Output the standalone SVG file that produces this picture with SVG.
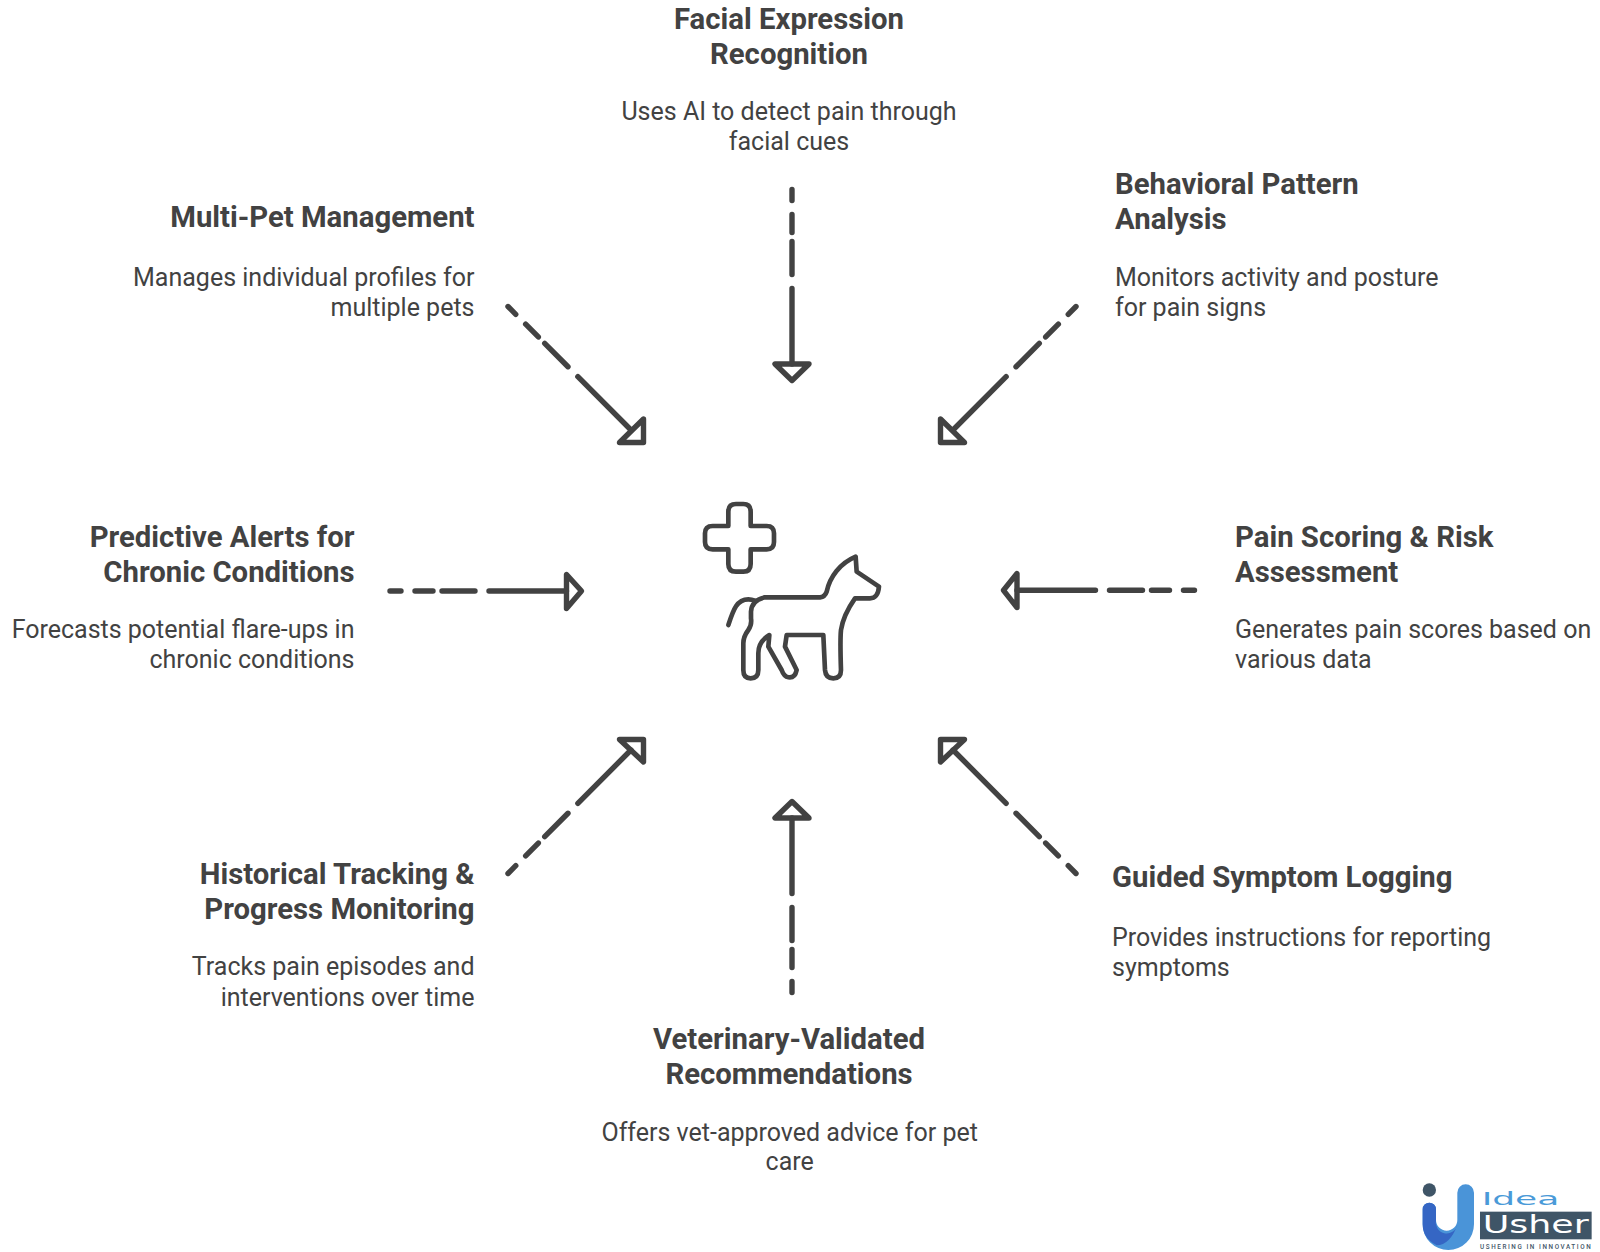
<svg xmlns="http://www.w3.org/2000/svg" width="1600" height="1252" viewBox="0 0 1600 1252">
<style>
text{font-family:Roboto,"Liberation Sans",sans-serif;fill:#424242}
.h{font-size:29.3px;font-weight:700;transform:translateY(.6px)}
.b{font-size:25px;font-weight:400;transform:translateY(.6px)}
.m{text-anchor:middle}.e{text-anchor:end}
.l{fill:none;stroke:#424242;stroke-width:5.4;stroke-linecap:round;stroke-linejoin:round;stroke-dasharray:11 14 18 9 33 14 500}
.a{fill:none;stroke:#424242;stroke-width:5.4;stroke-linecap:round;stroke-linejoin:round}
.i{fill:none;stroke:#424242;stroke-width:14;stroke-linecap:round;stroke-linejoin:round}
</style>
<rect width="1600" height="1252" fill="#fff"/>
<g id="connectors">
<g><path class="l" d="M792 189.5V364"/><path class="a" d="M775 364H809L792 380.5Z"/></g>
<g><path class="l" d="M1076 306.5L953 430"/><path class="a" d="M940.500 419V442.500H964.500Z"/></g>
<g><path class="l" d="M1194.5 590.300H1017"/><path class="a" d="M1017 573.500V607.500L1003.500 590.300Z"/></g>
<g><path class="l" d="M1076 873.500L953 750"/><path class="a" d="M940.500 762V739.500H964.500Z"/></g>
<g><path class="l" d="M792 992.500V818"/><path class="a" d="M775 818H809L792 801.500Z"/></g>
<g><path class="l" d="M508 873.500L631 750"/><path class="a" d="M643.500 762V739.500H619.500Z"/></g>
<g><path class="l" d="M390 591H566.500"/><path class="a" d="M566.500 574.500V608.500L581.500 591Z"/></g>
<g><path class="l" d="M508 306.500L631 430"/><path class="a" d="M643.500 419V442.500H619.500Z"/></g>
</g>
<g id="center-icon" transform="translate(680 480) scale(.3333)">
<path class="i" d="M145 95Q145 72 168 72H190Q212 72 212 95V138H260Q282 138 282 160V186Q282 208 260 208H212V252Q212 275 190 275H168Q145 275 145 252V208H98Q75 208 75 186V160Q75 138 98 138H145Z"/>
<path class="i" d="M255 352H420Q435 350 440 335C450 290 480 250 527 230L530 275L597 320Q594 355 570 355H525Q490 405 483 450Q480 480 483 570Q483 595 460 595Q437 595 435 570L430 465H320L315 500L350 570Q345 595 325 592Q312 590 305 570L265 500L268 465Q235 485 235 520V570Q235 595 212 595Q190 595 190 570V490Q190 470 205 450Q216 435 213 415V395Q215 360 255 352Z"/>
<path class="i" d="M145 435C160 390 170 358 205 358Q215 358 225 362"/>
</g>
<g id="node-facial"><text class="h m" x="789" y="28">Facial Expression</text><text class="h m" x="789" y="63">Recognition</text><text class="b m" x="789" y="119.5">Uses AI to detect pain through</text><text class="b m" x="789" y="149.500">facial cues</text></g>
<g id="node-behavioral"><text class="h" x="1115" y="193">Behavioral Pattern</text><text class="h" x="1115" y="228">Analysis</text><text class="b" x="1115" y="285">Monitors activity and posture</text><text class="b" x="1115" y="315">for pain signs</text></g>
<g id="node-pain"><text class="h" x="1235" y="546">Pain Scoring &amp; Risk</text><text class="h" x="1235" y="581">Assessment</text><text class="b" x="1235" y="637">Generates pain scores based on</text><text class="b" x="1235" y="667">various data</text></g>
<g id="node-guided"><text class="h" x="1112" y="886">Guided Symptom Logging</text><text class="b" x="1112" y="945">Provides instructions for reporting</text><text class="b" x="1112" y="975">symptoms</text></g>
<g id="node-veterinary"><text class="h m" x="789" y="1048">Veterinary-Validated</text><text class="h m" x="789" y="1083">Recommendations</text><text class="b m" x="789.7" y="1140">Offers vet-approved advice for pet</text><text class="b m" x="789.7" y="1169.500">care</text></g>
<g id="node-historical"><text class="h e" x="474.5" y="883">Historical Tracking &amp;</text><text class="h e" x="474.5" y="918">Progress Monitoring</text><text class="b e" x="474.5" y="974.500">Tracks pain episodes and</text><text class="b e" x="474.5" y="1005">interventions over time</text></g>
<g id="node-predictive"><text class="h e" x="354.5" y="546">Predictive Alerts for</text><text class="h e" x="354.5" y="581">Chronic Conditions</text><text class="b e" x="354.5" y="637">Forecasts potential flare-ups in</text><text class="b e" x="354.5" y="667">chronic conditions</text></g>
<g id="node-multipet"><text class="h e" x="474.5" y="226">Multi-Pet Management</text><text class="b e" x="474.5" y="285">Manages individual profiles for</text><text class="b e" x="474.5" y="315">multiple pets</text></g>
<g id="logo" transform="translate(1400 1170) scale(.3333)">
<circle cx="88" cy="60" r="20" fill="#3f5567"/>
<path d="M172 68A25 25 0 0 1 222 68V163A77 77 0 0 1 68 163V118A20 20 0 0 1 108 118V150A32 32 0 0 0 172 150Z" fill="#4a94d8"/>
<path d="M68 118A20 20 0 0 1 108 118V150A32 32 0 0 0 172 165Q150 225 110 226Q68 205 68 163Z" fill="#3566c4"/>
<text x="245" y="106" font-size="54" textLength="233" lengthAdjust="spacingAndGlyphs" style="fill:#4a9ad8;font-family:'DejaVu Sans',sans-serif">Idea</text>
<rect x="240" y="125" width="335" height="83" fill="#3f5567"/>
<text x="248" y="190" font-size="72" textLength="318" lengthAdjust="spacingAndGlyphs" style="fill:#fff;font-family:'DejaVu Sans',sans-serif">Usher</text>
<text x="240" y="236" font-size="19" textLength="332" style="fill:#3f5567;font-weight:500">USHERING IN INNOVATION</text>
</g>
</svg>
